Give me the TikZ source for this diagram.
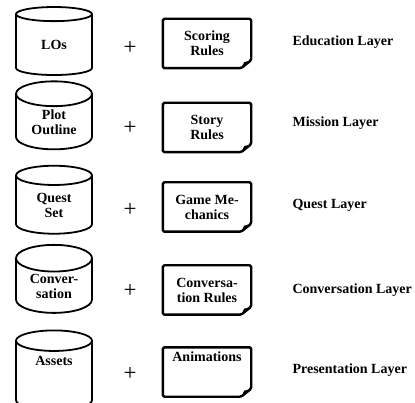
\documentclass[tikz,border=0pt]{standalone}
\usepackage{fontspec}
\setmainfont{Liberation Serif}
\usetikzlibrary{shapes.geometric}

\tikzset{
  store/.style={cylinder, shape border rotate=90, draw, line width=1.8pt, aspect=0.55,
    minimum width=76pt, minimum height=68pt, align=center, inner sep=0pt,
    font=\fontsize{14}{15}\selectfont\bfseries},
  sheet/.style={minimum width=88pt, minimum height=49pt, align=center, inner sep=0pt,
    font=\fontsize{14}{15}\selectfont\bfseries},
  sheetline/.style={line width=2.4pt, rounded corners=1.5pt, line join=round},
  layer/.style={anchor=west, font=\fontsize{14}{15}\selectfont\bfseries},
  plus/.style={font=\fontsize{23}{23}\selectfont},
}

\begin{document}
\begin{tikzpicture}[x=1pt,y=-1pt]
\useasboundingbox (0,0) rectangle (415,403);
% data stores
\node[store] (los) at (54,45) {LOs};
\node[store] (plot) at (54,122) {Plot\\Outline};
\node[store] (quest) at (54,205) {Quest\\Set};
\node[store] (conv) at (54,286) {Conver-\\sation};
\node[store,minimum height=80pt,text depth=31pt] (assets) at (54,376) {Assets};
% rule sheets
\node[sheet] (scoring) at (207,43.5) {Scoring\\Rules};
\node[sheet] (story) at (207,127.5) {Story\\Rules};
\node[sheet] (mech) at (207,207) {Game Me-\\chanics};
\node[sheet] (convrules) at (207,290) {Conversa-\\tion Rules};
\node[sheet,text depth=30pt] (anim) at (207,372) {Animations};
\foreach \s in {scoring,story,mech,convrules,anim}{
  \draw[sheetline] (\s.north west) -- (\s.north east) -- ([yshift=8pt]\s.south east)
    -- ([xshift=-10pt]\s.south east) -- (\s.south west) -- cycle;
  \fill ([yshift=8pt]\s.south east) -- ([xshift=-10pt]\s.south east)
    -- ([xshift=-7pt,yshift=6pt]\s.south east) -- cycle;
}
% plus signs
\foreach \n/\y in {1/48,2/128,3/210,4/291,5/374}
  \node[plus] (plus\n) at (130,\y) {+};
% layers
\node[layer] (edu) at (289,42) {Education Layer};
\node[layer] (mission) at (289,123) {Mission Layer};
\node[layer] (questl) at (289,205) {Quest Layer};
\node[layer] (convl) at (289,290) {Conversation Layer};
\node[layer] (pres) at (289,370) {Presentation Layer};
\end{tikzpicture}
\end{document}
